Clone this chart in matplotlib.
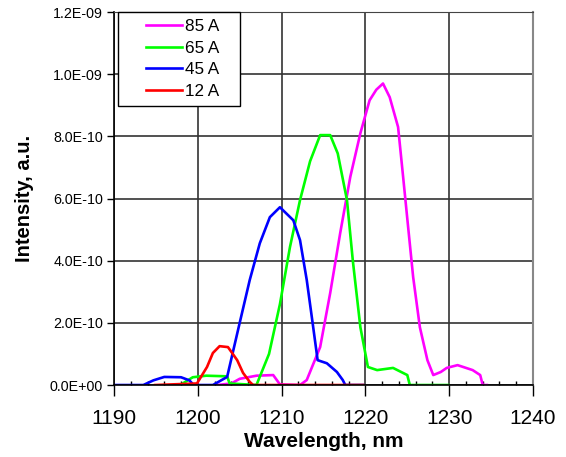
import matplotlib
matplotlib.use("Agg")
import matplotlib.pyplot as plt
from matplotlib.lines import Line2D
from matplotlib.legend_handler import HandlerLine2D
from matplotlib.ticker import FuncFormatter, MultipleLocator

plt.rcParams["font.family"] = ["Liberation Sans", "DejaVu Sans"]

# wavelength (nm) / intensity (a.u.)
wl_85 = [1202.3, 1204.0, 1205.0, 1207.0, 1209.0, 1209.8, 1212.2, 1213.0, 1214.6, 1215.8, 1217.0,
         1218.2, 1219.4, 1220.5, 1221.3, 1222.1, 1222.9, 1223.9, 1224.5, 1225.1, 1225.7,
         1226.5, 1227.4, 1228.1, 1229.0, 1229.7, 1231.0, 1232.8, 1233.7, 1234.0, 1234.5]
int_85 = [0.0, 0.05e-10, 0.2e-10, 0.3e-10, 0.32e-10, 0.02e-10, 0.0, 0.16e-10, 1.22e-10, 2.96e-10, 4.9e-10,
          6.7e-10, 8.1e-10, 9.16e-10, 9.5e-10, 9.7e-10, 9.26e-10, 8.3e-10, 6.7e-10, 5.08e-10, 3.47e-10,
          1.86e-10, 0.8e-10, 0.32e-10, 0.42e-10, 0.55e-10, 0.64e-10, 0.48e-10, 0.32e-10, 0.0, 0.0]

wl_65 = [1197.9, 1199.4, 1201.0, 1203.5, 1203.8, 1207.0, 1208.5, 1209.8, 1211.0, 1212.2, 1213.4,
         1214.6, 1215.8, 1216.7, 1217.8, 1218.5, 1219.4, 1220.3, 1221.4, 1223.3, 1225.0,
         1225.3, 1229.9]
int_65 = [0.0, 0.25e-10, 0.3e-10, 0.28e-10, 0.05e-10, 0.0, 1.0e-10, 2.6e-10, 4.44e-10, 5.95e-10, 7.2e-10,
          8.04e-10, 8.04e-10, 7.45e-10, 5.95e-10, 4.0e-10, 1.86e-10, 0.58e-10, 0.48e-10, 0.55e-10, 0.32e-10,
          0.0, 0.0]

wl_45 = [1190.0, 1193.5, 1194.7, 1196.0, 1198.0, 1199.0, 1199.5, 1201.8, 1203.5, 1205.0, 1206.2,
         1207.4, 1208.6, 1209.8, 1211.4, 1212.2, 1213.0, 1213.7, 1214.3, 1215.4, 1216.6,
         1217.3, 1217.6, 1219.7]
int_45 = [0.0, 0.0, 0.15e-10, 0.26e-10, 0.25e-10, 0.15e-10, 0.0, 0.0, 0.26e-10, 2.0e-10, 3.38e-10,
          4.56e-10, 5.4e-10, 5.72e-10, 5.3e-10, 4.66e-10, 3.38e-10, 2.0e-10, 0.8e-10, 0.7e-10, 0.42e-10,
          0.16e-10, 0.0, 0.0]

wl_12 = [1194.9, 1199.9, 1201.1, 1201.8, 1202.6, 1203.6, 1204.7, 1205.4, 1206.2, 1206.6, 1219.7]
int_12 = [0.0, 0.05e-10, 0.58e-10, 1.03e-10, 1.25e-10, 1.22e-10, 0.8e-10, 0.39e-10, 0.1e-10, 0.0, 0.0]

series = [
    ("85 A", wl_85, int_85, "#FF00FF"),
    ("65 A", wl_65, int_65, "#00FF00"),
    ("45 A", wl_45, int_45, "#0000FF"),
    ("12 A", wl_12, int_12, "#FF0000"),
]


class PaddedLine(HandlerLine2D):
    # leave empty space to the left of the legend line, like the Excel legend
    def create_artists(self, legend, orig_handle, xdescent, ydescent, width, height, fontsize, trans):
        pad = 0.37 * width
        return super().create_artists(legend, orig_handle, xdescent - pad, ydescent,
                                      width - pad, height, fontsize, trans)


fig = plt.figure(figsize=(5.66, 4.57), dpi=100)
ax = fig.add_axes([0.2014, 0.1575, 0.7403, 0.8162])

for label, x, y, color in series:
    ax.plot(x, y, color=color, lw=1.9, label=label)

ax.set_xlim(1190, 1240)
ax.set_ylim(0, 1.2e-9)
ax.xaxis.set_major_locator(MultipleLocator(10))
ax.xaxis.set_minor_locator(MultipleLocator(2))
ax.yaxis.set_major_locator(MultipleLocator(2e-10))
ax.yaxis.set_major_formatter(FuncFormatter(lambda v, p: f"{v:.1E}"))

ax.grid(True, which="major", color="#333333", lw=1.2)
ax.set_axisbelow(True)
ax.tick_params(axis="y", which="major", direction="out", length=5, labelsize=10.3, width=1, pad=3)
ax.tick_params(axis="x", which="major", direction="out", length=8, labelsize=15, width=1, pad=9)
ax.tick_params(axis="x", which="minor", direction="in", length=3, width=1)
for side in ["left", "bottom"]:
    ax.spines[side].set_color("black")
    ax.spines[side].set_linewidth(1.2)
ax.spines["top"].set_color("#444444")
ax.spines["right"].set_color("#888888")
ax.spines["right"].set_linewidth(1.5)

ax.set_xlabel("Wavelength, nm", fontsize=15, fontweight="bold", labelpad=3)
ax.set_ylabel("Intensity, a.u.", fontsize=14.5, fontweight="bold", labelpad=11)

leg = ax.legend(loc="upper left", bbox_to_anchor=(0.0095, 0.0, 0.291, 1.0), mode="expand",
                fontsize=12.3, frameon=True, fancybox=False, edgecolor="black", framealpha=1,
                handlelength=3.3, borderpad=0.42, labelspacing=0.38, handletextpad=0.2,
                borderaxespad=0, handler_map={Line2D: PaddedLine()})
leg.get_frame().set_linewidth(1.0)

fig.savefig("out.png", dpi=100)
